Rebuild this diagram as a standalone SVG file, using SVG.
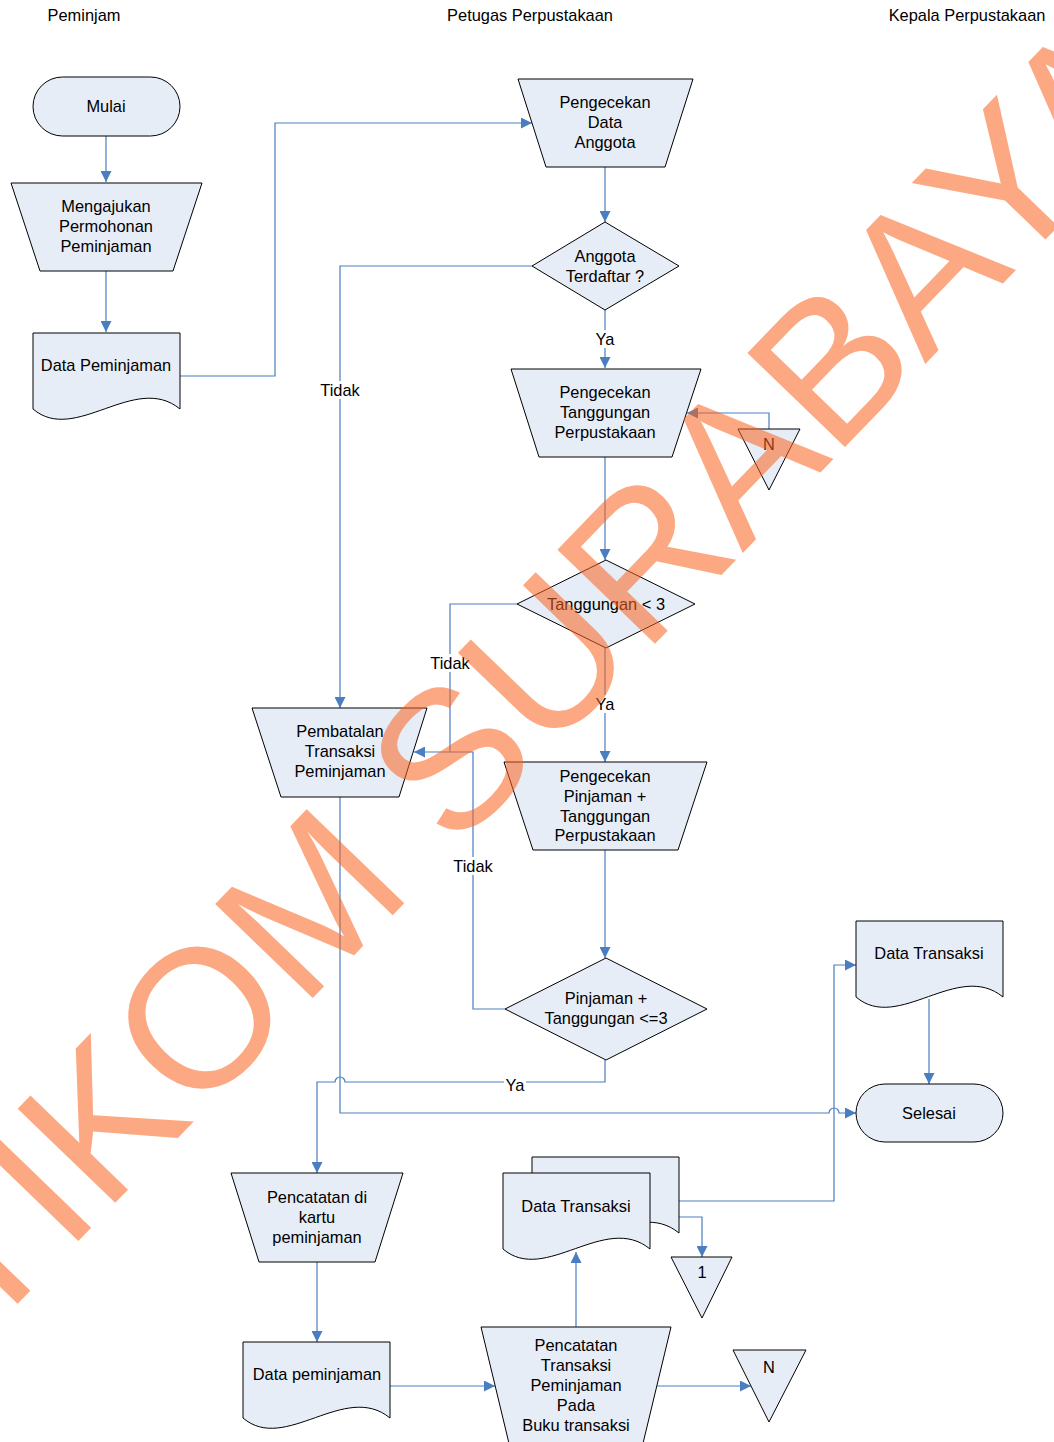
<svg xmlns="http://www.w3.org/2000/svg" width="1054" height="1442" viewBox="0 0 1054 1442">
<defs>
<style>
.node{fill:#E7EDF7;stroke:#000;stroke-width:1}
.t{font-family:"Liberation Sans",Arial,sans-serif;font-size:16.4px;text-anchor:middle;fill:#000}
.conn{fill:none;stroke:#4A7EC0;stroke-width:1.2}
.bg{fill:#fff}
.wm{font-family:"Liberation Sans",Arial,sans-serif;font-size:197px;fill:#FA641E;opacity:0.55}
</style>
<marker id="arr" markerUnits="userSpaceOnUse" markerWidth="11" markerHeight="11" refX="10" refY="5" orient="auto" viewBox="0 0 10 10">
<path d="M0,0 L10,5 L0,10 z" fill="#4A7EC0"/>
</marker>
</defs>
<rect width="1054" height="1442" fill="#fff"/>
<g id="headers">
<text class="t" x="84" y="21">Peminjam</text>
<text class="t" x="530" y="21">Petugas Perpustakaan</text>
<text class="t" x="967" y="21">Kepala Perpustakaan</text>
</g>
<g id="connectors">
<path class="conn" d="M106,136 V182" marker-end="url(#arr)"/>
<path class="conn" d="M106,271 V332" marker-end="url(#arr)"/>
<path class="conn" d="M180,376 H275 V123 H532" marker-end="url(#arr)"/>
<path class="conn" d="M605,167 V222" marker-end="url(#arr)"/>
<path class="conn" d="M605,310 V368" marker-end="url(#arr)"/>
<path class="conn" d="M532,266 H340 V708" marker-end="url(#arr)"/>
<path class="conn" d="M769,429 V413 H687" marker-end="url(#arr)"/>
<path class="conn" d="M605,457 V560" marker-end="url(#arr)"/>
<path class="conn" d="M517,604 H450 V752 H414" marker-end="url(#arr)"/>
<path class="conn" d="M605,648 V762" marker-end="url(#arr)"/>
<path class="conn" d="M605,850 V958" marker-end="url(#arr)"/>
<path class="conn" d="M505,1009 H473 V752 H450"/>
<path class="conn" d="M605,1060 V1082 H345 A5,5 0 0 0 335,1082 H317 V1173" marker-end="url(#arr)"/>
<path class="conn" d="M340,797 V1113 H829 A5,5 0 0 1 839,1113 H856" marker-end="url(#arr)"/>
<path class="conn" d="M929,999 V1084" marker-end="url(#arr)"/>
<path class="conn" d="M679,1201 H834 V965 H856" marker-end="url(#arr)"/>
<path class="conn" d="M650,1217 H702 V1257" marker-end="url(#arr)"/>
<path class="conn" d="M317,1262 V1342" marker-end="url(#arr)"/>
<path class="conn" d="M390,1386 H495" marker-end="url(#arr)"/>
<path class="conn" d="M576,1327 V1252" marker-end="url(#arr)"/>
<path class="conn" d="M657,1386 H751" marker-end="url(#arr)"/>
<rect class="bg" x="594" y="330" width="22" height="18"/>
<rect class="bg" x="319" y="381" width="42" height="18"/>
<rect class="bg" x="429" y="654" width="42" height="18"/>
<rect class="bg" x="594" y="695" width="22" height="18"/>
<rect class="bg" x="452" y="857" width="42" height="18"/>
<rect class="bg" x="504" y="1076" width="22" height="18"/>
<text class="t" x="605" y="345">Ya</text>
<text class="t" x="340" y="396">Tidak</text>
<text class="t" x="450" y="669">Tidak</text>
<text class="t" x="605" y="710">Ya</text>
<text class="t" x="473" y="872">Tidak</text>
<text class="t" x="515" y="1091">Ya</text>
</g>
<g id="mulai">
<rect class="node" x="33" y="77" width="147" height="59" rx="29.5"/>
<text class="t" x="106" y="112">Mulai</text>
</g>
<g id="mengajukan">
<polygon class="node" points="11,183 202,183 173,271 40,271"/>
<text class="t" x="106" y="212">Mengajukan</text>
<text class="t" x="106" y="232">Permohonan</text>
<text class="t" x="106" y="252">Peminjaman</text>
</g>
<g id="data-peminjaman-1">
<path class="node" d="M33,333 H180 V409 C135,372 75,445 33,409 Z"/>
<text class="t" x="106" y="371">Data Peminjaman</text>
</g>
<g id="cek-anggota">
<polygon class="node" points="518,79 693,79 665,167 546,167"/>
<text class="t" x="605" y="108">Pengecekan</text>
<text class="t" x="605" y="128">Data</text>
<text class="t" x="605" y="148">Anggota</text>
</g>
<g id="anggota-terdaftar">
<polygon class="node" points="605,222 679,266 605,310 532,266"/>
<text class="t" x="605" y="262">Anggota</text>
<text class="t" x="605" y="282">Terdaftar ?</text>
</g>
<g id="cek-tanggungan">
<polygon class="node" points="511,369 701,369 672,457 539,457"/>
<text class="t" x="605" y="398">Pengecekan</text>
<text class="t" x="605" y="418">Tanggungan</text>
<text class="t" x="605" y="438">Perpustakaan</text>
</g>
<g id="n-top">
<polygon class="node" points="738,429 800,429 769,490"/>
<text class="t" x="769" y="450">N</text>
</g>
<g id="tanggungan-3">
<polygon class="node" points="606,560 695,604 606,648 517,604"/>
<text class="t" x="606" y="610">Tanggungan &lt; 3</text>
</g>
<g id="pembatalan">
<polygon class="node" points="252,708 427,708 399,797 281,797"/>
<text class="t" x="340" y="737">Pembatalan</text>
<text class="t" x="340" y="757">Transaksi</text>
<text class="t" x="340" y="777">Peminjaman</text>
</g>
<g id="cek-pinjaman">
<polygon class="node" points="504,762 707,762 678,850 533,850"/>
<text class="t" x="605" y="782">Pengecekan</text>
<text class="t" x="605" y="802">Pinjaman +</text>
<text class="t" x="605" y="822">Tanggungan</text>
<text class="t" x="605" y="841">Perpustakaan</text>
</g>
<g id="pinjaman-tanggungan">
<polygon class="node" points="606,958 707,1009 606,1060 505,1009"/>
<text class="t" x="606" y="1004">Pinjaman +</text>
<text class="t" x="606" y="1024">Tanggungan &lt;=3</text>
</g>
<g id="data-transaksi-kepala">
<path class="node" d="M856,921 H1003 V997 C958,960 898,1033 856,997 Z"/>
<text class="t" x="929" y="959">Data Transaksi</text>
</g>
<g id="selesai">
<rect class="node" x="856" y="1084" width="147" height="58" rx="29"/>
<text class="t" x="929" y="1119">Selesai</text>
</g>
<g id="data-transaksi-multi">
<path class="node" d="M532,1157 H679 V1233 C634,1196 574,1269 532,1233 Z"/>
<path class="node" d="M503,1173 H650 V1249 C605,1212 545,1285 503,1249 Z"/>
<text class="t" x="576" y="1212">Data Transaksi</text>
</g>
<g id="konektor-1">
<polygon class="node" points="671,1257 732,1257 702,1318"/>
<text class="t" x="702" y="1278">1</text>
</g>
<g id="pencatatan-kartu">
<polygon class="node" points="231,1173 403,1173 375,1262 259,1262"/>
<text class="t" x="317" y="1203">Pencatatan di</text>
<text class="t" x="317" y="1223">kartu</text>
<text class="t" x="317" y="1243">peminjaman</text>
</g>
<g id="data-peminjaman-2">
<path class="node" d="M243,1342 H390 V1418 C345,1381 285,1454 243,1418 Z"/>
<text class="t" x="317" y="1380">Data peminjaman</text>
</g>
<g id="pencatatan-transaksi">
<polygon class="node" points="481,1327 671,1327 639,1460 513,1460"/>
<text class="t" x="576" y="1351">Pencatatan</text>
<text class="t" x="576" y="1371">Transaksi</text>
<text class="t" x="576" y="1391">Peminjaman</text>
<text class="t" x="576" y="1411">Pada</text>
<text class="t" x="576" y="1431">Buku transaksi</text>
</g>
<g id="n-bottom">
<polygon class="node" points="733,1350 806,1350 769,1422"/>
<text class="t" x="769" y="1373">N</text>
</g>
<g id="watermark">
<text class="wm" x="0" y="0" transform="translate(-109,1435) rotate(-46)">STIKOM SURABAYA</text>
</g>
</svg>
